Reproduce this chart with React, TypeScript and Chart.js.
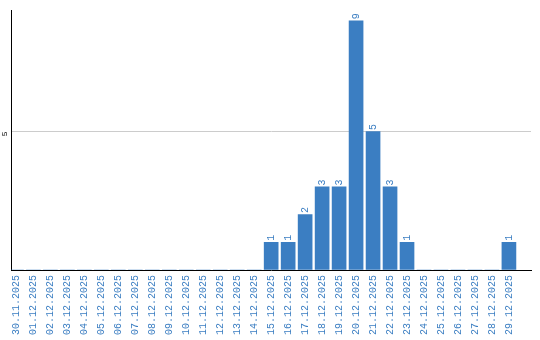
import { useEffect, useRef } from 'react';
import { Chart, registerables } from 'chart.js';

Chart.register(...registerables);

const categories = [
  '30.11.2025', '01.12.2025', '02.12.2025', '03.12.2025', '04.12.2025',
  '05.12.2025', '06.12.2025', '07.12.2025', '08.12.2025', '09.12.2025',
  '10.12.2025', '11.12.2025', '12.12.2025', '13.12.2025', '14.12.2025',
  '15.12.2025', '16.12.2025', '17.12.2025', '18.12.2025', '19.12.2025',
  '20.12.2025', '21.12.2025', '22.12.2025', '23.12.2025', '24.12.2025',
  '25.12.2025', '26.12.2025', '27.12.2025', '28.12.2025', '29.12.2025',
];
const counts = [
  0, 0, 0, 0, 0, 0, 0, 0, 0, 0, 0, 0, 0, 0, 0,
  1, 1, 2, 3, 3, 9, 5, 3, 1, 0, 0, 0, 0, 0, 1,
];
const yTickLabels = [5];

const BLUE = '#3b7ec2';
const FONT = '"Liberation Mono", monospace';

export default function App() {
  const ref = useRef<HTMLCanvasElement | null>(null);

  useEffect(() => {
    const canvas = ref.current;
    if (!canvas) return;

    const valueLabels = {
      id: 'valueLabels',
      afterDatasetsDraw(chart: any) {
        const ctx = chart.ctx;
        const meta = chart.getDatasetMeta(0);
        ctx.save();
        ctx.font = `10px ${FONT}`;
        ctx.fillStyle = BLUE;
        ctx.textAlign = 'left';
        ctx.textBaseline = 'middle';
        meta.data.forEach((bar: any, i: number) => {
          const v = counts[i];
          if (!v) return;
          ctx.save();
          ctx.translate(bar.x, bar.y - 1.5);
          ctx.rotate(-Math.PI / 2);
          ctx.fillText(String(v), 0, 0);
          ctx.restore();
        });
        ctx.restore();
      },
    };

    const chart = new Chart(canvas, {
      type: 'bar',
      data: {
        labels: categories,
        datasets: [
          {
            data: counts,
            backgroundColor: BLUE,
            borderWidth: 0,
            barThickness: 14,
          },
        ],
      },
      options: {
        responsive: false,
        animation: false,
        layout: { padding: { top: 10, right: 9, left: 0, bottom: 0 } },
        plugins: {
          legend: { display: false },
          tooltip: { enabled: false },
        },
        scales: {
          x: {
            afterFit: (s: any) => {
              s.height = 70;
            },
            afterBuildTicks: (s: any) => {
              s._startValue = -0.32;
              s._valueRange = 30.62;
            },
            grid: { display: false, drawTicks: false },
            border: { display: true, color: '#000000', width: 1 },
            ticks: {
              autoSkip: false,
              minRotation: 90,
              maxRotation: 90,
              padding: 5,
              color: BLUE,
              font: { family: FONT, size: 10 },
            },
          },
          y: {
            min: 0,
            max: 9.36,
            afterFit: (s: any) => {
              s.width = 11;
            },
            grid: {
              drawTicks: false,
              color: (c: any) => (yTickLabels.includes(c.tick?.value) ? '#cccccc' : 'rgba(0,0,0,0)'),
            },
            border: { display: true, color: '#000000', width: 1 },
            ticks: {
              stepSize: 5,
              includeBounds: false,
              minRotation: 90,
              maxRotation: 90,
              padding: 6,
              color: '#000000',
              font: { family: FONT, size: 8 },
              callback: (v: any) => (yTickLabels.includes(Number(v)) ? String(v) : ''),
            },
          },
        },
      },
      plugins: [valueLabels],
    });

    return () => chart.destroy();
  }, []);

  return (
    <div style={{ position: 'absolute', left: 0, top: 0, width: 540, height: 340 }}>
      <canvas ref={ref} width={540} height={340} style={{ display: 'block' }} />
    </div>
  );
}
